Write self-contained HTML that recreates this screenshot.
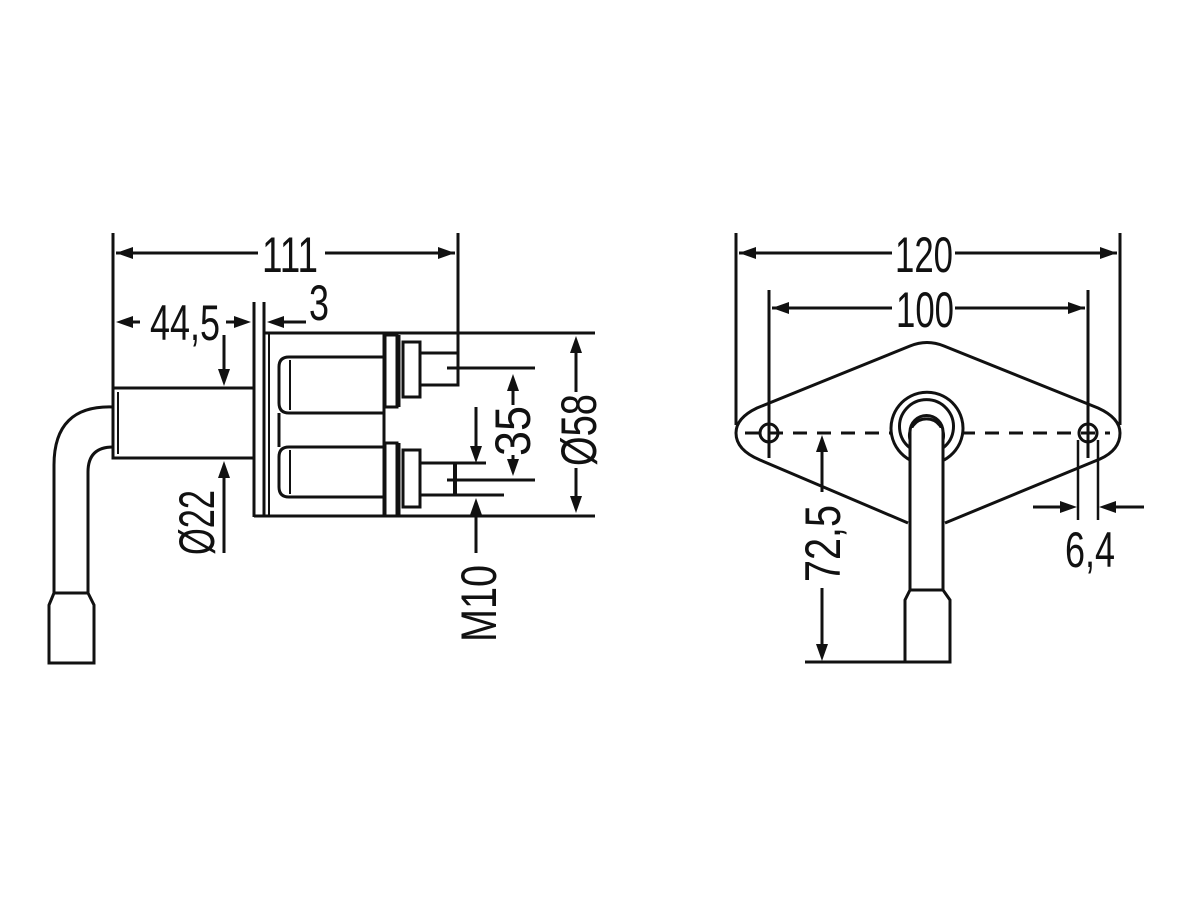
<!DOCTYPE html>
<html><head><meta charset="utf-8"><style>
html,body{margin:0;padding:0;background:#fff;width:1200px;height:900px;overflow:hidden}
svg text{font-family:"Liberation Sans Narrow","Liberation Sans",sans-serif;font-size:50px;fill:#111}
</style></head><body>
<svg width="1200" height="900" viewBox="0 0 1200 900" xmlns="http://www.w3.org/2000/svg">
<g stroke="#111" stroke-width="3" fill="none">
<!-- LEFT VIEW -->
<line x1="113" y1="233" x2="113" y2="458"/>
<line x1="458" y1="233" x2="458" y2="385"/>
<line x1="116" y1="253" x2="258" y2="253"/>
<line x1="325" y1="253" x2="455" y2="253"/>
<rect x="113" y="388" width="141" height="70"/>
<line x1="118" y1="392" x2="118" y2="454" stroke-width="2"/>
<line x1="254" y1="302" x2="254" y2="517"/>
<line x1="264" y1="302" x2="264" y2="517"/>
<line x1="269" y1="333" x2="269" y2="517" stroke-width="2"/>
<line x1="264" y1="333" x2="595" y2="333"/>
<line x1="254" y1="516" x2="595" y2="516"/>
<path d="M383,357 H289 Q279,357 279,367 V403 Q279,413 289,413 H383"/>
<path d="M383,447 H289 Q279,447 279,457 V487 Q279,497 289,497 H383"/>
<line x1="279" y1="413" x2="279" y2="447"/>
<line x1="290" y1="360" x2="290" y2="410" stroke-width="2"/>
<line x1="290" y1="450" x2="290" y2="494" stroke-width="2"/>
<line x1="384" y1="333" x2="384" y2="516"/>
<rect x="385" y="335" width="12" height="72"/>
<rect x="385" y="443" width="12" height="73"/>
<line x1="399" y1="335" x2="399" y2="407"/>
<line x1="399" y1="443" x2="399" y2="516"/>
<rect x="403" y="342" width="17" height="55"/>
<rect x="403" y="450" width="17" height="57"/>
<path d="M420,353 H458 V385 H420"/>
<line x1="420" y1="463" x2="486" y2="463"/>
<line x1="420" y1="495" x2="504" y2="495"/>
<line x1="455" y1="463" x2="455" y2="495" stroke-width="4"/>
<line x1="447" y1="368" x2="535" y2="368"/>
<line x1="447" y1="480" x2="535" y2="480"/>
<line x1="513" y1="405" x2="513" y2="380"/>
<line x1="513" y1="455" x2="513" y2="470"/>
<line x1="476" y1="407" x2="476" y2="455"/>
<line x1="476" y1="553" x2="476" y2="505"/>
<line x1="576" y1="392" x2="576" y2="342"/>
<line x1="576" y1="468" x2="576" y2="506"/>
<line x1="140" y1="322" x2="122" y2="322"/>
<line x1="226" y1="322" x2="245" y2="322"/>
<line x1="306" y1="322" x2="273" y2="322"/>
<line x1="224" y1="335" x2="224" y2="380"/>
<line x1="224" y1="553" x2="224" y2="467"/>
<path d="M113,407 Q54,405 54,465 V593"/>
<path d="M113,447 Q88,447 88,472 V593"/>
<path d="M54,593 L49,605 V663 H94 V605 L88,593 Z"/>
<!-- RIGHT VIEW -->
<line x1="736" y1="233" x2="736" y2="425"/>
<line x1="1120" y1="233" x2="1120" y2="425"/>
<line x1="739" y1="253" x2="892" y2="253"/>
<line x1="955" y1="253" x2="1117" y2="253"/>
<line x1="769" y1="290" x2="769" y2="458"/>
<line x1="1088" y1="290" x2="1088" y2="458"/>
<line x1="772" y1="308" x2="892" y2="308"/>
<line x1="955" y1="308" x2="1085" y2="308"/>
<path d="M908,523 L760,460 Q736,450 736,433 Q736,418 757,408 L910,346 Q927,339 944,346 L1098,408 Q1120,418 1120,433 Q1120,450 1100,459 L945,523"/>
<circle cx="769" cy="433" r="9"/>
<circle cx="1088" cy="433" r="9"/>
<line x1="745" y1="433" x2="1110" y2="433" stroke-dasharray="14,10"/>
<path d="M910,460 A36,36 0 1 1 944,460" fill="#fff"/>
<path d="M910,448 A27,27 0 1 1 943,448"/>
<path d="M910,440 A17,17 0 1 1 943,440"/>
<rect x="910" y="428" width="33" height="165" fill="#fff" stroke="none"/>
<path d="M910,432 A16.5,16.5 0 0 1 943,432 V590 M910,432 V590"/>
<path d="M910,590 L905,600 V662 H950 V600 L943,590 Z"/>
<line x1="805" y1="662" x2="905" y2="662"/>
<line x1="822" y1="492" x2="822" y2="441"/>
<line x1="822" y1="588" x2="822" y2="655"/>
<line x1="1078" y1="440" x2="1078" y2="520" stroke-width="2.5"/>
<line x1="1098" y1="440" x2="1098" y2="520" stroke-width="2.5"/>
<line x1="1033" y1="507" x2="1070" y2="507"/>
<line x1="1144" y1="507" x2="1106" y2="507"/>
</g>
<g fill="#111" stroke="none">
<!-- left / right / up / down arrowheads -->
<polygon points="116,253 133,247 133,259"/>
<polygon points="455,253 438,247 438,259"/>
<polygon points="513,374 507,391 519,391"/>
<polygon points="513,476 507,459 519,459"/>
<polygon points="476,463 470,446 482,446"/>
<polygon points="476,498 470,515 482,515"/>
<polygon points="576,336 570,353 582,353"/>
<polygon points="576,513 570,496 582,496"/>
<polygon points="116,322 133,316 133,328"/>
<polygon points="251,322 234,316 234,328"/>
<polygon points="267,322 284,316 284,328"/>
<polygon points="224,386 218,369 230,369"/>
<polygon points="224,461 218,478 230,478"/>
<polygon points="739,253 756,247 756,259"/>
<polygon points="1117,253 1100,247 1100,259"/>
<polygon points="772,308 789,302 789,314"/>
<polygon points="1085,308 1068,302 1068,314"/>
<polygon points="822,435 816,452 828,452"/>
<polygon points="822,661 816,644 828,644"/>
<polygon points="1077,507 1060,501 1060,513"/>
<polygon points="1099,507 1116,501 1116,513"/>
</g>
<g>
<text x="262" y="272" textLength="56" lengthAdjust="spacingAndGlyphs">111</text>
<text x="150" y="340" textLength="70" lengthAdjust="spacingAndGlyphs">44,5</text>
<text x="309" y="320" textLength="20" lengthAdjust="spacingAndGlyphs">3</text>
<text transform="translate(214,555) rotate(-90)" textLength="65" lengthAdjust="spacingAndGlyphs">Ø22</text>
<text transform="translate(496,642) rotate(-90)" textLength="77" lengthAdjust="spacingAndGlyphs">M10</text>
<text transform="translate(530,456) rotate(-90)" textLength="50" lengthAdjust="spacingAndGlyphs">35</text>
<text transform="translate(596,466) rotate(-90)" textLength="72" lengthAdjust="spacingAndGlyphs">Ø58</text>
<text x="895" y="272" textLength="58" lengthAdjust="spacingAndGlyphs">120</text>
<text x="896" y="327" textLength="58" lengthAdjust="spacingAndGlyphs">100</text>
<text transform="translate(840,582) rotate(-90)" textLength="77" lengthAdjust="spacingAndGlyphs">72,5</text>
<text x="1065" y="567" textLength="50" lengthAdjust="spacingAndGlyphs">6,4</text>
</g>
</svg>
</body></html>
